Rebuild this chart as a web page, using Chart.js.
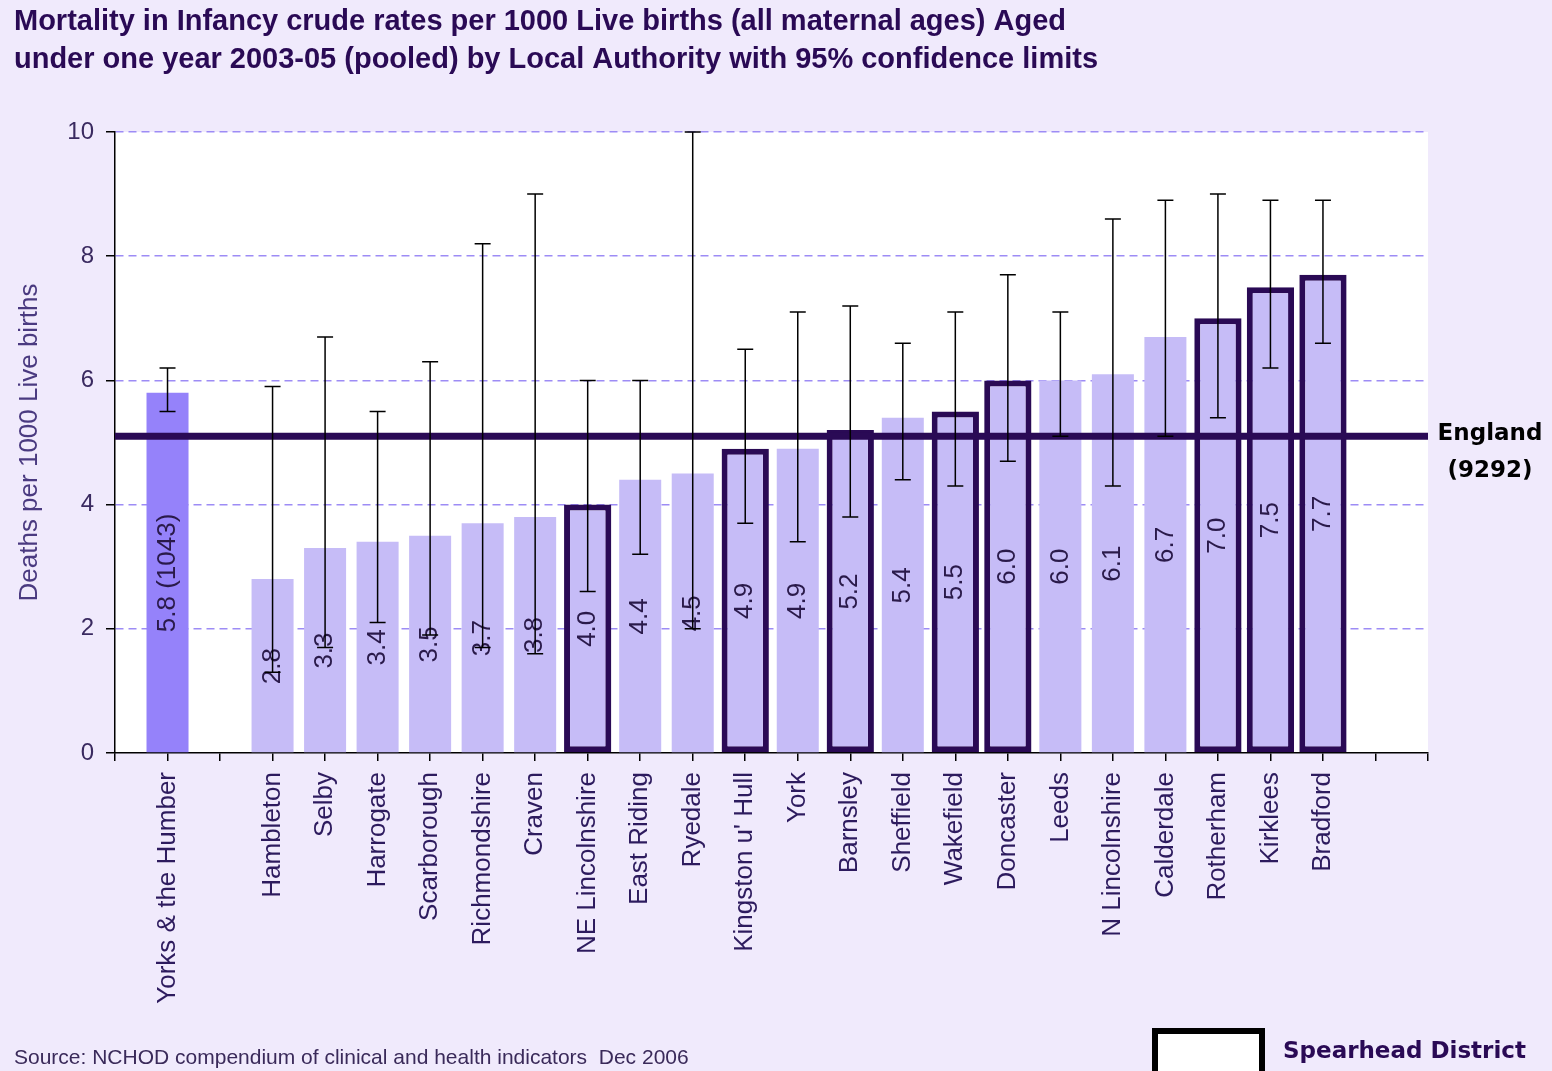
<!DOCTYPE html>
<html>
<head>
<meta charset="utf-8">
<script src="https://cdn.jsdelivr.net/npm/chart.js@4.4.1/dist/chart.umd.min.js"></script>
<style>
  html, body { margin: 0; padding: 0; background: #f0eafc; }
  #wrap { width: 1552px; height: 1071px; position: relative; }
</style>
</head>
<body>
<div id="wrap"><canvas id="infantChart" width="1552" height="1071"></canvas></div>
<script>
// Data
var areas = ['Yorks & the Humber', 'Hambleton', 'Selby', 'Harrogate', 'Scarborough', 'Richmondshire',
  'Craven', 'NE Lincolnshire', 'East Riding', 'Ryedale', "Kingston u' Hull", 'York', 'Barnsley',
  'Sheffield', 'Wakefield', 'Doncaster', 'Leeds', 'N Lincolnshire', 'Calderdale', 'Rotherham',
  'Kirklees', 'Bradford'];
var rates = [5.8, 2.8, 3.3, 3.4, 3.5, 3.7, 3.8, 4.0, 4.4, 4.5, 4.9, 4.9, 5.2, 5.4, 5.5, 6.0, 6.0, 6.1, 6.7, 7.0, 7.5, 7.7];
var lowerCI = [5.5, 1.3, 1.7, 2.1, 1.9, 1.7, 1.6, 2.6, 3.2, 2.0, 3.7, 3.4, 3.8, 4.4, 4.3, 4.7, 5.1, 4.3, 5.1, 5.4, 6.2, 6.6];
var upperCI = [6.2, 5.9, 6.7, 5.5, 6.3, 8.2, 9.0, 6.0, 6.0, 10.0, 6.5, 7.1, 7.2, 6.6, 7.1, 7.7, 7.1, 8.6, 8.9, 9.0, 8.9, 8.9];
var spearhead = [false, false, false, false, false, false, false, true, false, false, true, false, true,
  false, true, true, false, false, false, true, true, true];
var regionDeaths = 1043;
var englandRate = 5.1;
var englandDeaths = 9292;
var yTicks = [0, 2, 4, 6, 8, 10];

// axis slots: blank edge, region, blank gap, the 21 authorities, blank, blank edge
var labels = [''].concat([areas[0], ''], areas.slice(1), ['', '']);
function slot(i) { return i === 0 ? 1 : i + 2; }

var normalData = labels.map(function () { return null; });
var spearData = labels.map(function () { return null; });
var lowData = labels.map(function () { return null; });
var highData = labels.map(function () { return null; });
var barText = labels.map(function () { return null; });
rates.forEach(function (v, i) {
  var s = slot(i);
  if (spearhead[i]) spearData[s] = v; else normalData[s] = v;
  lowData[s] = lowerCI[i];
  highData[s] = upperCI[i];
  barText[s] = i === 0 ? v.toFixed(1) + ' (' + regionDeaths + ')' : v.toFixed(1);
});

var DARK = '#2a0a55';
var BAR = '#c6bcf7';
var REGION_BAR = '#9582fa';

var extras = {
  id: 'extras',
  beforeDraw: function (chart) {
    var ctx = chart.ctx, a = chart.chartArea;
    ctx.save();
    ctx.fillStyle = '#f0eafc';
    ctx.fillRect(0, 0, chart.width, chart.height);
    ctx.fillStyle = '#ffffff';
    ctx.fillRect(a.left, a.top, a.right - a.left, a.bottom - a.top);
    ctx.restore();
  },
  afterDatasetsDraw: function (chart) {
    var ctx = chart.ctx, a = chart.chartArea;
    var x = chart.scales.x, y = chart.scales.y;
    ctx.save();
    // labels inside the bars
    ctx.fillStyle = '#2a1a4a';
    ctx.font = '26px "Liberation Sans", Arial, sans-serif';
    ctx.textAlign = 'center';
    ctx.textBaseline = 'middle';
    barText.forEach(function (t, s) {
      if (t === null) return;
      var v = normalData[s] !== null ? normalData[s] : spearData[s];
      var px = x.getPixelForValue(s);
      var py = (y.getPixelForValue(v) + y.getPixelForValue(0)) / 2;
      ctx.save();
      ctx.translate(px, py);
      ctx.rotate(-Math.PI / 2);
      ctx.fillText(t, 0, 0);
      ctx.restore();
    });
    // England line
    var ey = y.getPixelForValue(englandRate);
    ctx.strokeStyle = DARK;
    ctx.lineWidth = 7;
    ctx.beginPath();
    ctx.moveTo(a.left, ey);
    ctx.lineTo(a.right, ey);
    ctx.stroke();
    // confidence limits
    ctx.strokeStyle = '#000000';
    ctx.lineWidth = 1.5;
    lowData.forEach(function (lo, s) {
      if (lo === null) return;
      var px = x.getPixelForValue(s);
      var p1 = y.getPixelForValue(lo), p2 = y.getPixelForValue(highData[s]);
      ctx.beginPath();
      ctx.moveTo(px, p1); ctx.lineTo(px, p2);
      ctx.moveTo(px - 8, p1); ctx.lineTo(px + 8, p1);
      ctx.moveTo(px - 8, p2); ctx.lineTo(px + 8, p2);
      ctx.stroke();
    });
    ctx.restore();
  },
  afterDraw: function (chart) {
    var ctx = chart.ctx;
    var y = chart.scales.y;
    ctx.save();
    // title
    ctx.fillStyle = DARK;
    ctx.textAlign = 'left';
    ctx.textBaseline = 'alphabetic';
    ctx.font = 'bold 29px "Liberation Sans", Arial, sans-serif';
    ctx.fillText('Mortality in Infancy crude rates per 1000 Live births (all maternal ages) Aged', 14, 30, 1052);
    ctx.fillText('under one year 2003-05 (pooled) by Local Authority with 95% confidence limits', 14, 68, 1084);
    // England label
    var ey = y.getPixelForValue(englandRate);
    ctx.fillStyle = '#000000';
    ctx.textAlign = 'center';
    ctx.font = 'bold 23px "DejaVu Sans", sans-serif';
    ctx.fillText('England', 1490, ey + 4);
    ctx.fillText('(' + englandDeaths + ')', 1490, ey + 41);
    // source
    ctx.textAlign = 'left';
    ctx.fillStyle = '#3a2a5a';
    ctx.font = '21px "Liberation Sans", Arial, sans-serif';
    ctx.fillText('Source: NCHOD compendium of clinical and health indicators  Dec 2006', 14, 1064, 680);
    // spearhead key
    ctx.fillStyle = '#ffffff';
    ctx.fillRect(1155, 1031, 107, 45);
    ctx.strokeStyle = '#000000';
    ctx.lineWidth = 6;
    ctx.strokeRect(1155, 1031, 107, 45);
    ctx.fillStyle = DARK;
    ctx.font = 'bold 23px "DejaVu Sans", sans-serif';
    ctx.fillText('Spearhead District', 1283, 1058);
    ctx.restore();
  }
};

var ctx = document.getElementById('infantChart').getContext('2d');
var infantChart = new Chart(ctx, {
  type: 'bar',
  data: {
    labels: labels,
    datasets: [{
      label: 'Rate',
      data: normalData,
      grouped: false,
      backgroundColor: labels.map(function (l, s) { return s === 1 ? REGION_BAR : BAR; }),
      borderWidth: 0,
      barPercentage: 0.8,
      categoryPercentage: 1
    }, {
      label: 'Spearhead District',
      data: spearData,
      grouped: false,
      backgroundColor: BAR,
      borderColor: DARK,
      borderWidth: 6,
      borderSkipped: false,
      barPercentage: 0.9,
      categoryPercentage: 1
    }]
  },
  options: {
    responsive: false,
    animation: false,
    layout: { padding: { top: 132, right: 124, left: 0, bottom: 0 } },
    plugins: {
      legend: { display: false },
      tooltip: { enabled: false },
      title: { display: false }
    },
    scales: {
      x: {
        offset: false,
        afterFit: function (scale) { scale.height = 318; },
        grid: { offset: false, drawOnChartArea: false, color: '#000000', tickLength: 8, lineWidth: 1.5 },
        border: { color: '#000000', width: 1.5 },
        ticks: {
          autoSkip: false, minRotation: 90, maxRotation: 90, padding: 11,
          color: '#2d1b5e',
          font: { size: 26, family: '"Liberation Sans", Arial, sans-serif' }
        }
      },
      y: {
        min: 0,
        max: 10,
        afterFit: function (scale) { scale.width = 115; },
        afterBuildTicks: function (scale) { scale.ticks = yTicks.map(function (v) { return { value: v }; }); },
        grid: {
          color: function (c) { return c.tick && c.tick.value === 0 ? 'rgba(0,0,0,0)' : '#9d8cf5'; },
          tickColor: '#000000',
          tickLength: 9,
          lineWidth: 1.5
        },
        border: { color: '#000000', width: 1.5, dash: [8, 5] },
        ticks: {
          padding: 12,
          color: '#3a2a60',
          font: { size: 24, family: '"Liberation Sans", Arial, sans-serif' }
        },
        title: {
          display: true,
          text: 'Deaths per 1000 Live births',
          color: '#4a3a80',
          padding: { top: 14, bottom: 0 },
          font: { size: 26, family: '"Liberation Sans", Arial, sans-serif' }
        }
      }
    }
  },
  plugins: [extras]
});
</script>
</body>
</html>
